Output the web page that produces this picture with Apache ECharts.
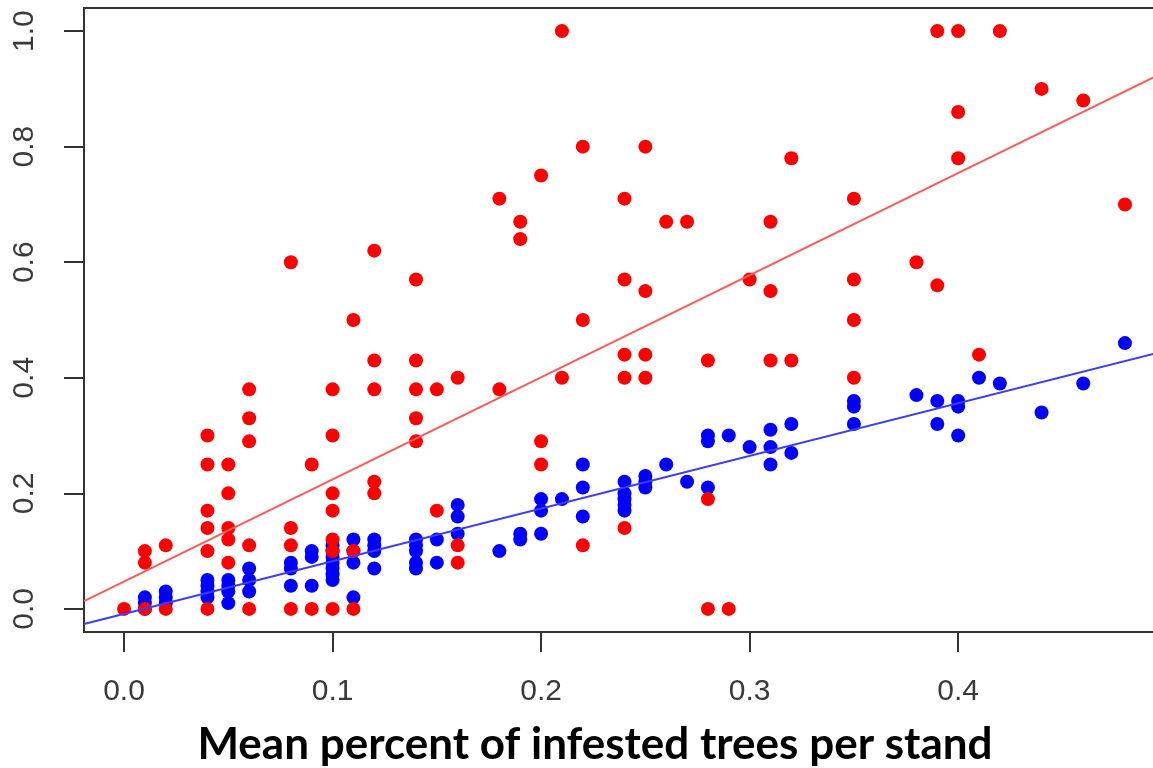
<!DOCTYPE html>
<html>
<head>
<meta charset="utf-8">
<script src="https://cdn.jsdelivr.net/npm/echarts@6/dist/echarts.min.js"></script>
<style>
html,body{margin:0;padding:0;background:#fff;}
#chart{width:1153px;height:768px;}
</style>
</head>
<body>
<div id="chart"></div>
<script>
// ---- data ----
const xTicks = [0, 0.1, 0.2, 0.3, 0.4];
const yTicks = [0, 0.2, 0.4, 0.6, 0.8, 1.0];
const xRange = [-0.0192, 0.4992];
const yRange = [-0.04, 1.04];
const xTitle = 'Mean percent of infested trees per stand';

const redPoints = [
  [0,0],
  [0.01,0.10],[0.01,0.08],[0.01,0],
  [0.02,0.11],[0.02,0],
  [0.04,0.30],[0.04,0.25],[0.04,0.17],[0.04,0.14],[0.04,0.10],[0.04,0],
  [0.05,0.25],[0.05,0.20],[0.05,0.14],[0.05,0.12],[0.05,0.08],
  [0.06,0.38],[0.06,0.33],[0.06,0.29],[0.06,0.11],[0.06,0],
  [0.08,0.60],[0.08,0.14],[0.08,0.11],[0.08,0],
  [0.09,0.25],[0.09,0],
  [0.10,0.38],[0.10,0.30],[0.10,0.20],[0.10,0.17],[0.10,0.12],[0.10,0.10],[0.10,0],
  [0.11,0.50],[0.11,0.10],[0.11,0],
  [0.12,0.62],[0.12,0.43],[0.12,0.38],[0.12,0.22],[0.12,0.20],
  [0.14,0.57],[0.14,0.43],[0.14,0.38],[0.14,0.33],[0.14,0.29],
  [0.15,0.38],[0.15,0.17],
  [0.16,0.40],[0.16,0.11],[0.16,0.08],
  [0.18,0.71],[0.18,0.38],
  [0.19,0.67],[0.19,0.64],
  [0.20,0.75],[0.20,0.29],[0.20,0.25],
  [0.21,1.0],[0.21,0.40],
  [0.22,0.80],[0.22,0.50],[0.22,0.11],
  [0.24,0.71],[0.24,0.57],[0.24,0.44],[0.24,0.40],[0.24,0.14],
  [0.25,0.80],[0.25,0.55],[0.25,0.44],[0.25,0.40],
  [0.26,0.67],[0.27,0.67],
  [0.28,0.43],[0.28,0.19],[0.28,0],
  [0.29,0],
  [0.30,0.57],
  [0.31,0.67],[0.31,0.55],[0.31,0.43],
  [0.32,0.78],[0.32,0.43],
  [0.35,0.71],[0.35,0.57],[0.35,0.50],[0.35,0.40],
  [0.38,0.60],
  [0.39,1.0],[0.39,0.56],
  [0.40,1.0],[0.40,0.86],[0.40,0.78],
  [0.41,0.44],
  [0.42,1.0],
  [0.44,0.90],
  [0.46,0.88],
  [0.48,0.70]
];

const bluePoints = [
  [0.01,0.02],[0.01,0.01],[0.01,0.00],
  [0.02,0.03],[0.02,0.02],[0.02,0.01],
  [0.04,0.05],[0.04,0.04],[0.04,0.03],[0.04,0.02],
  [0.05,0.05],[0.05,0.04],[0.05,0.03],[0.05,0.01],
  [0.06,0.07],[0.06,0.05],[0.06,0.03],
  [0.08,0.08],[0.08,0.07],[0.08,0.04],
  [0.09,0.10],[0.09,0.09],[0.09,0.04],
  [0.10,0.11],[0.10,0.10],[0.10,0.09],[0.10,0.08],[0.10,0.07],[0.10,0.06],[0.10,0.05],
  [0.11,0.12],[0.11,0.10],[0.11,0.08],[0.11,0.02],
  [0.12,0.12],[0.12,0.11],[0.12,0.10],[0.12,0.07],
  [0.14,0.12],[0.14,0.11],[0.14,0.10],[0.14,0.08],[0.14,0.07],
  [0.15,0.12],[0.15,0.08],
  [0.16,0.18],[0.16,0.16],[0.16,0.13],
  [0.18,0.10],
  [0.19,0.13],[0.19,0.12],
  [0.20,0.19],[0.20,0.17],[0.20,0.13],
  [0.21,0.19],
  [0.22,0.25],[0.22,0.21],[0.22,0.16],
  [0.24,0.22],[0.24,0.20],[0.24,0.19],[0.24,0.18],[0.24,0.17],
  [0.25,0.23],[0.25,0.22],[0.25,0.21],
  [0.26,0.25],
  [0.27,0.22],
  [0.28,0.30],[0.28,0.29],[0.28,0.21],
  [0.29,0.30],
  [0.30,0.28],
  [0.31,0.31],[0.31,0.28],[0.31,0.25],
  [0.32,0.32],[0.32,0.27],
  [0.35,0.36],[0.35,0.35],[0.35,0.32],
  [0.38,0.37],
  [0.39,0.36],[0.39,0.32],
  [0.40,0.36],[0.40,0.35],[0.40,0.30],
  [0.41,0.40],
  [0.42,0.39],
  [0.44,0.34],
  [0.46,0.39],
  [0.48,0.46]
];

// fitted line coefficients [intercept, slope]
const redFit = [0.0475, 1.767];
const blueFit = [-0.0085, 0.911];

function fitLine(c) {
  return xRange.map(x => [x, c[0] + c[1] * x]);
}

const chart = echarts.init(document.getElementById('chart'));
const axisColor = '#333';
const labelFont = { fontFamily: 'Liberation Sans, Arial, sans-serif', fontSize: 30, color: '#3a3a3a' };

chart.setOption({
  animation: false,
  backgroundColor: '#fff',
  grid: {
    left: 84, top: 8, width: 1081, height: 624,
    outerBoundsMode: 'none', containLabel: false,
    show: true, borderColor: axisColor, borderWidth: 2, backgroundColor: 'transparent'
  },
  xAxis: {
    type: 'value', min: xRange[0], max: xRange[1],
    splitLine: { show: false },
    axisLine: { show: true, onZero: false, lineStyle: { color: axisColor, width: 2 } },
    axisTick: { show: true, length: 20, customValues: xTicks, lineStyle: { color: axisColor, width: 2 } },
    axisLabel: Object.assign({ margin: 45, customValues: xTicks, formatter: v => v.toFixed(1) }, labelFont)
  },
  yAxis: {
    type: 'value', min: yRange[0], max: yRange[1],
    splitLine: { show: false },
    axisLine: { show: true, onZero: false, lineStyle: { color: axisColor, width: 2 } },
    axisTick: { show: true, length: 20, customValues: yTicks, lineStyle: { color: axisColor, width: 2 } },
    axisLabel: Object.assign({ margin: 44, rotate: 90, customValues: yTicks, formatter: v => v.toFixed(1) }, labelFont)
  },
  graphic: [{
    type: 'text',
    x: 595, y: 745,
    style: {
      text: xTitle,
      fontFamily: 'Lato, sans-serif', fontWeight: 'bold', fontSize: 44,
      fill: '#000', align: 'center', verticalAlign: 'middle'
    }
  }],
  series: [
    {
      type: 'scatter', name: 'blue', data: bluePoints, symbol: 'circle', symbolSize: 14,
      itemStyle: { color: '#0000ff', opacity: 1 }, z: 2
    },
    {
      type: 'scatter', name: 'red', data: redPoints, symbol: 'circle', symbolSize: 14,
      itemStyle: { color: '#ff0000', opacity: 1 }, z: 3
    },
    {
      type: 'line', name: 'red fit', data: fitLine(redFit), showSymbol: false, symbol: 'none',
      lineStyle: { color: '#ff5a5a', width: 2 }, z: 4, clip: true
    },
    {
      type: 'line', name: 'blue fit', data: fitLine(blueFit), showSymbol: false, symbol: 'none',
      lineStyle: { color: '#3c3cff', width: 2 }, z: 4, clip: true
    }
  ]
});
</script>
</body>
</html>
